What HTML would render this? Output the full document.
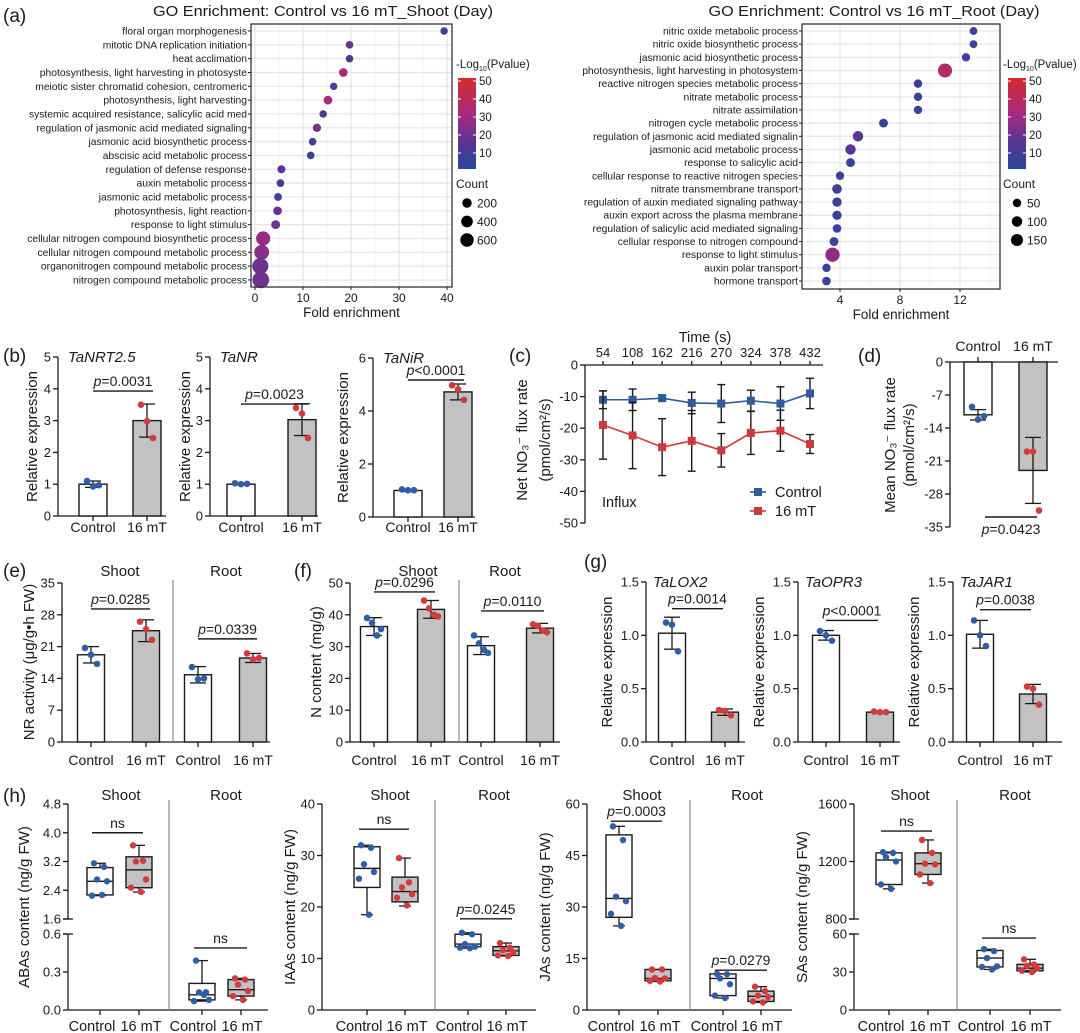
<!DOCTYPE html>
<html><head><meta charset="utf-8">
<style>
body{margin:0;background:#fff}
svg{display:block;font-family:"Liberation Sans",Arial,sans-serif}
</style></head>
<body>
<svg id="fig" width="1080" height="1033" viewBox="0 0 1080 1033">
<defs>
<linearGradient id="cbar" x1="0" y1="1" x2="0" y2="0">
<stop offset="0" stop-color="#27489a"/><stop offset="0.3" stop-color="#5a3595"/><stop offset="0.6" stop-color="#a62a7f"/><stop offset="1" stop-color="#d42b2b"/>
</linearGradient>
</defs>
</svg>
<script>
// ---------- GO enrichment data ----------
const goShootTerms=["floral organ morphogenesis","mitotic DNA replication initiation","heat acclimation","photosynthesis, light harvesting in photosyste","meiotic sister chromatid cohesion, centromeric","photosynthesis, light harvesting","systemic acquired resistance, salicylic acid med","regulation of jasmonic acid mediated signaling","jasmonic acid biosynthetic process","abscisic acid metabolic process","regulation of defense response","auxin metabolic process","jasmonic acid metabolic process","photosynthesis, light reaction","response to light stimulus","cellular nitrogen compound biosynthetic process","cellular nitrogen compound metabolic process","organonitrogen compound metabolic process","nitrogen compound metabolic process"];
const goShootFold=[39.4,19.7,19.7,18.4,16.4,15.2,14.2,12.9,12.0,11.6,5.5,5.3,4.8,4.7,4.3,1.7,1.4,1.1,1.2];
const goShootLogP=[5,18,7,35,8,32,8,22,8,6,16,8,8,18,18,27,24,19,19];
const goShootCount=[78,90,85,150,80,150,85,130,90,90,110,95,100,150,160,700,800,1000,1100];
const goRootTerms=["nitric oxide metabolic process","nitric oxide biosynthetic process","jasmonic acid biosynthetic process","photosynthesis, light harvesting in photosystem","reactive nitrogen species metabolic process","nitrate metabolic process","nitrate assimilation","nitrogen cycle metabolic process","regulation of jasmonic acid mediated signalin","jasmonic acid metabolic process","response to salicylic acid","cellular response to reactive nitrogen species","nitrate transmembrane transport","regulation of auxin mediated signaling pathway","auxin export across the plasma membrane","regulation of salicylic acid mediated signaling","cellular response to nitrogen compound","response to light stimulus","auxin polar transport","hormone transport"];
const goRootFold=[12.9,12.9,12.4,11.0,9.2,9.2,9.2,6.9,5.2,4.7,4.7,4.0,3.8,3.8,3.8,3.8,3.6,3.5,3.1,3.1];
const goRootLogP=[6,6,9,35,6,6,6,6,14,14,6,6,8,7,6,6,6,25,6,6];
const goRootCount=[40,40,50,230,50,50,50,60,100,100,60,50,80,70,70,55,60,240,50,55];
// ---------- (b) ----------
const bNrtMean=[1.0,3.0], bNrtErr=[0.1,0.52], bNrtDots=[[1.1,0.93,0.97],[3.5,2.98,2.45]];
const bNrMean=[1.0,3.03], bNrErr=[0.02,0.5], bNrDots=[[1.03,1.0,1.01],[3.4,3.22,2.45]];
const bNirMean=[1.0,4.72], bNirErr=[0.03,0.3], bNirDots=[[1.04,1.01,1.01],[4.97,4.82,4.42]];
const bTicks5=[0,1,2,3,4,5], bTicks6=[0,2,4,6];
// ---------- (c) ----------
const cTimes=[54,108,162,216,270,324,378,432];
const cCtrl=[-11,-11,-10.5,-12,-12.2,-11.3,-12.2,-9];
const cCtrlErr=[2.8,3.4,1.0,3.4,6.0,3.3,5.3,4.8];
const c16=[-19,-22.3,-26,-24,-27,-21.5,-20.8,-25];
const c16Err=[10.8,10.5,9,9.6,5.3,6.8,6.5,3];
const cTicks=[0,-10,-20,-30,-40,-50];
// ---------- (d) ----------
const dMean=[-11.2,-23], dErr=[1.1,7], dDots=[[-9.5,-12.2,-11.5],[-19,-19,-31.5]];
const dTicks=[0,-7,-14,-21,-28,-35];
// ---------- (e) (f) ----------
const eMean=[19.2,24.5,14.8,18.5], eErr=[1.8,2.4,1.8,1.0];
const eDots=[[20.7,19.2,17.2],[26.5,24.8,22.5],[16.5,13.8,14],[19.5,18.2,18.5]];
const eTicks=[0,7,14,21,28,35];
const fMean=[36.3,41.7,30.3,35.8], fErr=[2.8,2.8,2.8,1.5];
const fDots=[[39,37.5,33.5,35.5],[44.5,42,40,39.5],[33.5,31,29,28],[37,36.5,35,34.5]];
const fTicks=[0,10,20,30,40,50];
// ---------- (g) ----------
const gLoxMean=[1.02,0.28], gLoxErr=[0.15,0.03], gLoxDots=[[1.12,1.1,0.85],[0.3,0.29,0.25]];
const gOprMean=[1.0,0.28], gOprErr=[0.045,0.005], gOprDots=[[1.04,1.0,0.95],[0.285,0.28,0.28]];
const gJarMean=[1.01,0.45], gJarErr=[0.13,0.09], gJarDots=[[1.14,1.0,0.9],[0.52,0.5,0.35]];
const gTicks=[0,0.5,1.0,1.5];
// ---------- (h) box stats [min,q1,med,q3,max] ----------
const abaBox=[[2.25,2.27,2.65,3.03,3.15],[2.35,2.47,2.97,3.33,3.65],[0.07,0.08,0.12,0.21,0.39],[0.08,0.11,0.16,0.24,0.25]];
const abaDots=[[3.15,3.05,2.7,2.65,2.25,2.27],[3.65,3.22,3.2,2.7,2.47,2.35],[0.39,0.14,0.14,0.08,0.07,0.12],[0.25,0.24,0.2,0.15,0.11,0.08]];
const iaaBox=[[18.5,23.8,27.5,31.7,32],[20.2,21,23,25.8,29.5],[12,12.3,12.8,14.7,15],[10.5,10.6,11.5,12.3,13]];
const iaaDots=[[32,31.5,28.3,26.8,25.5,18.5],[29.5,24.8,23.8,22.5,21.8,20.3],[15,14.7,12.8,12.3,12.1,12],[13,12.1,11.6,11.2,10.6,10.5]];
const jaBox=[[24.5,27,32.5,51,53.5],[8.3,8.5,9.2,11.8,11.8],[3.5,4.2,9.2,10.5,10.5],[2.2,2.5,4,5.5,6.8]];
const jaDots=[[53.5,49.5,33,31.7,28,24.5],[11.8,11.8,9.3,9.2,8.5,8.3],[10.5,10.4,9.2,7.5,4.2,3.5],[6.8,5.5,4.2,3.8,2.5,2.2]];
const saBox=[[1010,1040,1210,1260,1265],[1050,1110,1185,1260,1350],[32,34,41,47,48],[30,31,33,36,40]];
const saDots=[[1265,1260,1230,1200,1040,1010],[1350,1260,1185,1180,1110,1050],[48,46.5,41,34.5,34,32],[40,36,35,33,31,30]];

// ---------- helpers ----------
const NS='http://www.w3.org/2000/svg';
const root=document.getElementById('fig');
const BLUE='#2f5ea8', RED='#d43a3a', GRAY='#c2c2c2';
function el(tag,attrs,parent){const e=document.createElementNS(NS,tag);for(const k in attrs)e.setAttribute(k,attrs[k]);(parent||root).appendChild(e);return e;}
function nm(e,name){
  
  
  return e;}
function grp(name){const g=el('g',{});nm(g,name);return g;}
function txt(p,x,y,s,size,anchor,name,extra){const t=el('text',Object.assign({x:x,y:y,'font-size':size,'text-anchor':anchor||'middle',fill:'#1a1a1a'},extra||{}),p);t.textContent=s;nm(t,name);return t;}
function ln(p,x1,y1,x2,y2,name,w,c){const l=el('line',{x1:x1,y1:y1,x2:x2,y2:y2,stroke:c||'#1a1a1a','stroke-width':w||1.3},p);nm(l,name);return l;}
function lin(d0,d1,r0,r1){return v=>r0+(v-d0)*(r1-r0)/(d1-d0);}
function vlabel(p,x,y,s,size,name){const t=txt(p,x,y,s,size,'middle',name,{transform:'rotate(-90 '+x+' '+y+')'});return t;}
function sigText(p,cx,y,s,name){
  const t=el('text',{x:cx,y:y,'font-size':14,'text-anchor':'middle',fill:'#1a1a1a'},p);nm(t,name);
  if(s[0]==='p'){const a=el('tspan',{'font-style':'italic'},t);a.textContent='p';const b=el('tspan',{},t);b.textContent=s.slice(1);}
  else t.textContent=s;
  return t;}
function sig(p,x1,x2,y,s,name){ln(p,x1,y,x2,y,name+'-line',1.4);sigText(p,(x1+x2)/2,y-5,s,name+'-text');}
function colorOf(v){const st=[[0,[39,72,154]],[15,[90,53,149]],[30,[166,42,127]],[50,[212,43,43]]];
  for(let i=0;i<st.length-1;i++){if(v<=st[i+1][0]){const f=(v-st[i][0])/(st[i+1][0]-st[i][0]);const c=st[i][1].map((a,j)=>Math.round(a+(st[i+1][1][j]-a)*f));return 'rgb('+c.join(',')+')';}}
  return 'rgb(212,43,43)';}

function yAxis(p,x,sc,ticks,top,bot,fmt,name){
  ln(p,x,top,x,bot,name+'-line',1.3);
  ticks.forEach(v=>{const y=sc(v);ln(p,x-5,y,x,y,name+'-tick',1.3);txt(p,x-7,y+4.5,fmt?fmt(v):String(v),13,'end',name+'-label');});
}
function barGroup(p,cx,w,sc,mean,err,dots,fill,dotColor,name){
  const y0=sc(0),ym=sc(mean);
  const r=el('rect',{x:cx-w/2,y:Math.min(y0,ym),width:w,height:Math.abs(ym-y0),fill:fill,stroke:'#1a1a1a','stroke-width':1.4},p);nm(r,name+'-bar');
  ln(p,cx,sc(mean-err),cx,sc(mean+err),name+'-errorbar',1.3);
  ln(p,cx-8,sc(mean+err),cx+8,sc(mean+err),name+'-errorcap',1.3);
  ln(p,cx-8,sc(mean-err),cx+8,sc(mean-err),name+'-errorcap',1.3);
  const jit=dots.length===3?[-6,0,6]:[-7,-2,3,7];
  dots.forEach((v,i)=>{const c=el('circle',{cx:cx+jit[i],cy:sc(v),r:3.3,fill:dotColor},p);nm(c,name+'-dot');});
}
function catLabels(p,xs,y,labels,name,offs,size){xs.forEach((x,i)=>{txt(p,x+(offs?offs[i]:0),y,labels[i],size||14,'middle',name);});}
function xTicks(p,xs,y,name){xs.forEach(x=>ln(p,x,y,x,y+5,name,1.3));}

// ---------- (a) GO plots ----------
function goPlot(name,terms,fold,lp,cnt,cfg){
  const g=grp(name);
  const xs=lin(0,1,cfg.x0v,cfg.x0v+cfg.pxPer);
  const bg=el('rect',{x:cfg.L,y:cfg.T,width:cfg.R-cfg.L,height:cfg.B-cfg.T,fill:'#fff'},g);nm(bg,name+'-panel');
  cfg.minor.forEach(v=>ln(g,xs(v),cfg.T,xs(v),cfg.B,name+'-minor-grid',0.6,'#eeeeee'));
  cfg.major.forEach(v=>ln(g,xs(v),cfg.T,xs(v),cfg.B,name+'-major-grid',1.2,'#e6e6e6'));
  terms.forEach((t,i)=>{const y=cfg.rowTop+i*cfg.rowStep;ln(g,cfg.L,y,cfg.R,y,name+'-row-grid',1.2,'#e6e6e6');
    ln(g,cfg.L-3,y,cfg.L,y,name+'-y-tick',1);
    txt(g,cfg.L-4,y+3.5,t,10.3,'end',name+'-term-label');});
  terms.forEach((t,i)=>{const y=cfg.rowTop+i*cfg.rowStep;
    const c=el('circle',{cx:xs(fold[i]),cy:y,r:cfg.rad(cnt[i]),fill:colorOf(lp[i])},g);nm(c,name+'-dot');});
  const bd=el('rect',{x:cfg.L,y:cfg.T,width:cfg.R-cfg.L,height:cfg.B-cfg.T,fill:'none',stroke:'#333','stroke-width':1.3},g);nm(bd,name+'-border');
  cfg.major.forEach(v=>{ln(g,xs(v),cfg.B,xs(v),cfg.B+3,name+'-x-tick',1);txt(g,xs(v),cfg.B+15,String(v),12,'middle',name+'-x-label');});
  txt(g,(cfg.L+cfg.R)/2,cfg.B+30,'Fold enrichment',13.5,'middle',name+'-x-title');
  txt(g,cfg.titleX,16,cfg.title,14.5,'middle',name+'-title',{textLength:cfg.titleW,lengthAdjust:'spacingAndGlyphs'});
  const lt=el('text',{x:cfg.legX,y:68,'font-size':11.5,fill:'#1a1a1a'},g);nm(lt,name+'-color-legend-title');
  lt.textContent='-Log';const s1=el('tspan',{'font-size':7,dy:3},lt);s1.textContent='10';const s2=el('tspan',{dy:-3},lt);s2.textContent='(Pvalue)';
  const cb=el('rect',{x:cfg.cbX,y:78,width:18,height:91,fill:'url(#cbar)'},g);nm(cb,name+'-colorbar');
  const cs=lin(10,50,153,81);
  [10,20,30,40,50].forEach(v=>{ln(g,cfg.cbX,cs(v),cfg.cbX+3,cs(v),name+'-colorbar-tick',1,'#fff');ln(g,cfg.cbX+15,cs(v),cfg.cbX+18,cs(v),name+'-colorbar-tick',1,'#fff');txt(g,cfg.cbX+21,cs(v)+4,String(v),11.5,'start',name+'-colorbar-label');});
  txt(g,cfg.legX,188,'Count',12,'start',name+'-size-legend-title');
  cfg.legCounts.forEach((c,i)=>{const y=203+i*18.5;const d=el('circle',{cx:cfg.cbX+9,cy:y,r:cfg.rad(c),fill:'#000'},g);nm(d,name+'-size-legend-dot');txt(g,cfg.cbX+19,y+4.5,String(c),12,'start',name+'-size-legend-label');});
}
txt(root,3,22,'(a)',19,'start','panel-a-label');
goPlot('go-shoot',goShootTerms,goShootFold,goShootLogP,goShootCount,{L:251,R:452,T:24,B:287,x0v:255,pxPer:4.8,rowTop:31,rowStep:13.83,major:[0,10,20,30,40],minor:[5,15,25,35],rad:c=>2+0.192*Math.sqrt(c),title:'GO Enrichment: Control vs 16 mT_Shoot (Day)',titleX:323,titleW:340,legX:456,cbX:458,legCounts:[200,400,600]});
goPlot('go-root',goRootTerms,goRootFold,goRootLogP,goRootCount,{L:802,R:1000,T:24,B:289,x0v:780,pxPer:15,rowTop:31,rowStep:13.16,major:[4,8,12],minor:[2,6,10,14],rad:c=>1.75+0.347*Math.sqrt(c),title:'GO Enrichment: Control vs 16 mT_Root (Day)',titleX:874,titleW:331,legX:1003,cbX:1008,legCounts:[50,100,150]});

// ---------- (b) ----------
txt(root,3,362,'(b)',19,'start','panel-b-label');
function simpleBars(name,ax,endX,sc,ticks,fmt,xs,means,errs,dots,gene,sigY,sigStr,ylab,ylx,base,labY){
  const g=grp(name);
  yAxis(g,ax,sc,ticks,sc(ticks[ticks.length-1]),base,fmt,name+'-y-axis');
  ln(g,ax,base,endX,base,name+'-x-axis',1.3);
  xTicks(g,xs,base,name+'-x-tick');
  barGroup(g,xs[0],28,sc,means[0],errs[0],dots[0],'#fff',BLUE,name+'-control');
  barGroup(g,xs[1],28,sc,means[1],errs[1],dots[1],GRAY,RED,name+'-16mt');
  catLabels(g,xs,labY,['Control','16 mT'],name+'-category-label');
  if(gene)txt(g,ax+10,sc(ticks[ticks.length-1])+5,gene,15,'start',name+'-gene-title',{'font-style':'italic'});
  sig(g,xs[0],xs[1]+6,sc(sigY),sigStr,name+'-significance');
  vlabel(g,ylx,sc(ticks[ticks.length-1])/2+base/2,ylab,15,name+'-y-title');
  return g;}
const bs5=lin(0,5,516,357), bs6=lin(0,6,517,358);
simpleBars('b-tanrt25',58,166,bs5,bTicks5,null,[93,147],bNrtMean,bNrtErr,bNrtDots,'TaNRT2.5',3.93,'p=0.0031','Relative expression',37,516,532);
simpleBars('b-tanr',210,318,bs5,bTicks5,null,[241,302],bNrMean,bNrErr,bNrDots,'TaNR',3.52,'p=0.0023','Relative expression',190,516,532);
simpleBars('b-tanir',373,475,bs6,bTicks6,null,[408,458],bNirMean,bNirErr,bNirDots,'TaNiR',5.17,'p<0.0001','Relative expression',348,517,532);

// ---------- (c) ----------
(function(){
  const g=grp('c-flux-line-chart');
  txt(g,509,362,'(c)',19,'start','panel-c-label');
  const xs=lin(54,432,603,810), ys=lin(0,-50,365,523);
  ln(g,585,365,823,365,'c-x-axis',1.3);
  cTimes.forEach(t=>{ln(g,xs(t),361,xs(t),365,'c-x-tick',1.3);txt(g,xs(t),357,String(t),13,'middle','c-x-label');});
  txt(g,705,342,'Time (s)',14.5,'middle','c-x-title');
  yAxis(g,585,ys,cTicks,365,523,null,'c-y-axis');
  vlabel(g,527,440,'Net NO\u2083\u207B flux rate',15,'c-y-title');
  vlabel(g,550,440,'(pmol/cm\u00B2/s)',15,'c-y-title-unit');
  function series(vals,errs,color,name){
    const pts=cTimes.map((t,i)=>xs(t)+','+ys(vals[i])).join(' ');
    const pl=el('polyline',{points:pts,fill:'none',stroke:color,'stroke-width':1.6},g);nm(pl,name+'-line');
    cTimes.forEach((t,i)=>{const x=xs(t);
      ln(g,x,ys(vals[i]-errs[i]),x,ys(vals[i]+errs[i]),name+'-errorbar',1.4);
      ln(g,x-4,ys(vals[i]+errs[i]),x+4,ys(vals[i]+errs[i]),name+'-errorcap',1.4);
      ln(g,x-4,ys(vals[i]-errs[i]),x+4,ys(vals[i]-errs[i]),name+'-errorcap',1.4);});
    cTimes.forEach((t,i)=>{const r=el('rect',{x:xs(t)-4,y:ys(vals[i])-4,width:8,height:8,fill:color},g);nm(r,name+'-marker');});
  }
  series(cCtrl,cCtrlErr,'#2d5b9e','c-control');
  series(c16,c16Err,'#d0393c','c-16mt');
  txt(g,602,507,'Influx',14.5,'start','c-influx-label');
  ln(g,750,492,766,492,'c-legend-control-line',1.6,'#2d5b9e');
  const m1=el('rect',{x:754,y:488,width:8,height:8,fill:'#2d5b9e'},g);nm(m1,'c-legend-control-marker');
  txt(g,775,497,'Control',14.5,'start','c-legend-control-label');
  ln(g,750,511,766,511,'c-legend-16mt-line',1.6,'#d0393c');
  const m2=el('rect',{x:754,y:507,width:8,height:8,fill:'#d0393c'},g);nm(m2,'c-legend-16mt-marker');
  txt(g,775,516,'16 mT',14.5,'start','c-legend-16mt-label');
})();

// ---------- (d) ----------
(function(){
  const g=grp('d-mean-flux-chart');
  txt(g,858,362,'(d)',19,'start','panel-d-label');
  const ys=lin(0,-35,362,527);
  yAxis(g,950,ys,dTicks,362,527,null,'d-y-axis');
  ln(g,950,362,1058,362,'d-x-axis',1.3);
  const xs=[978,1033];
  xs.forEach(x=>ln(g,x,357,x,362,'d-x-tick',1.3));
  barGroup(g,xs[0],28,ys,dMean[0],dErr[0],dDots[0],'#fff',BLUE,'d-control');
  barGroup(g,xs[1],28,ys,dMean[1],dErr[1],dDots[1],GRAY,RED,'d-16mt');
  catLabels(g,xs,351,['Control','16 mT'],'d-category-label');
  ln(g,985,517,1037,517,'d-significance-line',1.4);
  sigText(g,1011,534,'p=0.0423','d-significance-text');
  vlabel(g,895,445,'Mean NO\u2083\u207B flux rate',15,'d-y-title');
  vlabel(g,914,445,'(pmol/cm\u00B2/s)',15,'d-y-title-unit');
})();

// ---------- (e) (f) ----------
function fourBars(name,ax,endX,div,sc,ticks,xs,means,errs,dots,sigs,ylab,ylx,heads){
  const g=grp(name);
  yAxis(g,ax,sc,ticks,sc(ticks[ticks.length-1]),742,null,name+'-y-axis');
  ln(g,ax,742,endX,742,name+'-x-axis',1.3);
  xTicks(g,xs,742,name+'-x-tick');
  ln(g,div,580,div,742,name+'-divider',1.2,'#888');
  xs.forEach((x,i)=>barGroup(g,x,27,sc,means[i],errs[i],dots[i],i%2?GRAY:'#fff',i%2?RED:BLUE,name+(i<2?'-shoot':'-root')+(i%2?'-16mt':'-control')));
  catLabels(g,xs,765,['Control','16 mT','Control','16 mT'],name+'-category-label');
  txt(g,heads[0],576,'Shoot',15,'middle',name+'-shoot-header');
  txt(g,heads[1],576,'Root',15,'middle',name+'-root-header');
  sig(g,xs[0],xs[1]+4,sc(sigs[0][0]),sigs[0][1],name+'-shoot-significance');
  sig(g,xs[2],xs[3]+4,sc(sigs[1][0]),sigs[1][1],name+'-root-significance');
  vlabel(g,ylx,662,ylab,15,name+'-y-title');
}
txt(root,3,577,'(e)',19,'start','panel-e-label');
fourBars('e-nr-activity',62,270,173,lin(0,35,742,583),eTicks,[91,146,198,253],eMean,eErr,eDots,[[29.3,'p=0.0285'],[22.7,'p=0.0339']],'NR activity (\u03BCg/g\u2022h FW)',34,[120,226]);
txt(root,294,577,'(f)',19,'start','panel-f-label');
fourBars('f-n-content',350,560,459,lin(0,50,742,583),fTicks,[374,431,481,540],fMean,fErr,fDots,[[47.2,'p=0.0296'],[41.2,'p=0.0110']],'N content (mg/g)',321,[418,505]);

// ---------- (g) ----------
txt(root,584,568,'(g)',19,'start','panel-g-label');
const gs=lin(0,1.5,742,582);
function gPanel(name,ax,endX,xs,means,errs,dots,gene,sigY,sigStr,ylx){
  const g=grp(name);
  yAxis(g,ax,gs,gTicks,582,742,v=>v.toFixed(1),name+'-y-axis');
  ln(g,ax,742,endX,742,name+'-x-axis',1.3);
  xTicks(g,xs,742,name+'-x-tick');
  barGroup(g,xs[0],27,gs,means[0],errs[0],dots[0],'#fff',BLUE,name+'-control');
  barGroup(g,xs[1],27,gs,means[1],errs[1],dots[1],GRAY,RED,name+'-16mt');
  catLabels(g,xs,765,['Control','16 mT'],name+'-category-label');
  txt(g,ax+7,587,gene,15,'start',name+'-gene-title',{'font-style':'italic'});
  sig(g,xs[0],xs[1]-2,gs(sigY),sigStr,name+'-significance');
  vlabel(g,ylx,662,'Relative expression',15,name+'-y-title');
}
gPanel('g-talox2',646,745,[672,725],gLoxMean,gLoxErr,gLoxDots,'TaLOX2',1.25,'p=0.0014',612);
gPanel('g-taopr3',798,900,[826,880],gOprMean,gOprErr,gOprDots,'TaOPR3',1.14,'p<0.0001',764);
gPanel('g-tajar1',953,1062,[980,1033],gJarMean,gJarErr,gJarDots,'TaJAR1',1.24,'p=0.0038',919);

// ---------- (h) ----------
txt(root,3,802,'(h)',19,'start','panel-h-label');
function boxPanel(name,ax,endX,div,xs,sc,segs,boxes,dots,sigs,ylab,ylx,heads){
  const g=grp(name);
  segs.forEach(s=>{ln(g,ax,s.top,ax,s.bot,name+'-y-axis-line',1.3);
    s.ticks.forEach(v=>{const y=sc(v);ln(g,ax-5,y,ax,y,name+'-y-tick',1.3);txt(g,ax-7,y+4.5,s.fmt?s.fmt(v):String(v),13,'end',name+'-y-label');});});
  if(segs.length>1){ln(g,ax-5,919,ax+5,919,name+'-axis-break',1.3);ln(g,ax-5,934,ax+5,934,name+'-axis-break',1.3);}
  ln(g,ax,1010,endX,1010,name+'-x-axis',1.3);
  xTicks(g,xs,1010,name+'-x-tick');
  ln(g,div,800,div,1010,name+'-divider',1.2,'#888');
  const jit=[-6,4,-3,7,-8,2];
  xs.forEach((x,i)=>{const b=boxes[i];const gn=name+(i<2?'-shoot':'-root')+(i%2?'-16mt':'-control');
    ln(g,x,sc(b[0]),x,sc(b[1]),gn+'-whisker',1.3);ln(g,x,sc(b[3]),x,sc(b[4]),gn+'-whisker',1.3);
    ln(g,x-6,sc(b[0]),x+6,sc(b[0]),gn+'-whisker-cap',1.3);ln(g,x-6,sc(b[4]),x+6,sc(b[4]),gn+'-whisker-cap',1.3);
    const r=el('rect',{x:x-13,y:sc(b[3]),width:26,height:Math.max(1,sc(b[1])-sc(b[3])),fill:i%2?GRAY:'#fff',stroke:'#1a1a1a','stroke-width':1.4},g);nm(r,gn+'-box');
    ln(g,x-13,sc(b[2]),x+13,sc(b[2]),gn+'-median',1.4);
    dots[i].forEach((v,j)=>{const c=el('circle',{cx:x+jit[j],cy:sc(v),r:3.2,fill:i%2?RED:BLUE},g);nm(c,gn+'-dot');});
  });
  catLabels(g,xs,1031,['Control','16 mT','Control','16 mT'],name+'-category-label',[-8,2,-9,1],14.5);
  txt(g,heads[0],800,'Shoot',15,'middle',name+'-shoot-header');
  txt(g,heads[1],800,'Root',15,'middle',name+'-root-header');
  sig(g,xs[0]-8,xs[1]+4,sc(sigs[0][0]),sigs[0][1],name+'-shoot-significance');
  sig(g,xs[2]-8,xs[3]+6,sc(sigs[1][0]),sigs[1][1],name+'-root-significance');
  vlabel(g,ylx,907,ylab,15,name+'-y-title');
}
function broken(loD,hiD){const lo=lin(loD[0],loD[1],1010,934),hi=lin(hiD[0],hiD[1],919,804);return v=>v<=loD[1]+1e-9?lo(v):hi(v);}
const abaSc=broken([0,0.6],[1.6,4.8]);
boxPanel('h-aba',68,268,169,[100,139,202,241],abaSc,[{top:804,bot:919,ticks:[1.6,2.4,3.2,4.0,4.8],fmt:v=>v.toFixed(1)},{top:934,bot:1010,ticks:[0,0.3,0.6],fmt:v=>v.toFixed(1)}],abaBox,abaDots,[[4.0,'ns'],[0.49,'ns']],'ABAs content (ng/g FW)',29,[121,226]);
const iaaSc=lin(0,40,1010,804);
boxPanel('h-iaa',322,536,435,[367,405,468,506],iaaSc,[{top:804,bot:1010,ticks:[0,10,20,30,40]}],iaaBox,iaaDots,[[35.1,'ns'],[17.7,'p=0.0245']],'IAAs content (ng/g FW)',295,[390,494]);
const jaSc=lin(0,60,1010,804);
boxPanel('h-ja',587,792,690,[619,658,723,761],jaSc,[{top:804,bot:1010,ticks:[0,15,30,45,60]}],jaBox,jaDots,[[55,'p=0.0003'],[11.6,'p=0.0279']],'JAs content (ng/g FW)',550,[642,747]);
const saSc=broken([0,60],[800,1600]);
boxPanel('h-sa',854,1061,957,[889,928,990,1030],saSc,[{top:804,bot:919,ticks:[800,1200,1600]},{top:934,bot:1010,ticks:[0,30,60]}],saBox,saDots,[[1412,'ns'],[56.8,'ns']],'SAs content (ng/g FW)',807,[910,1015]);
</script>
</body></html>
